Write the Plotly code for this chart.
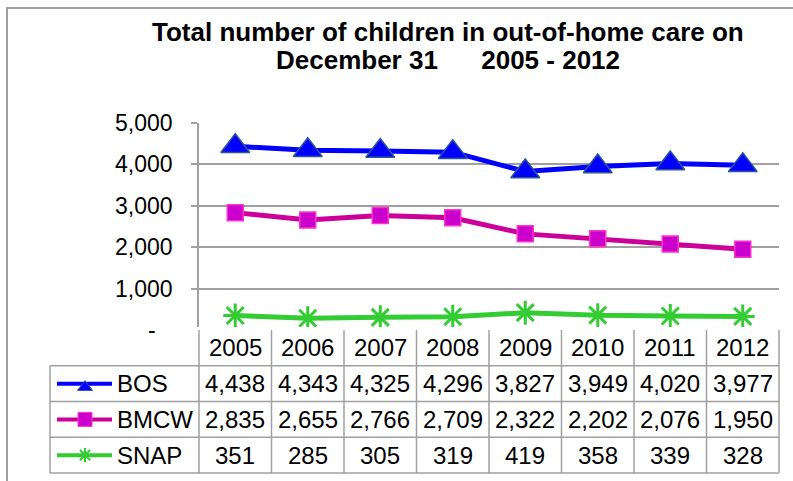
import plotly.graph_objects as go

years = ['2005', '2006', '2007', '2008', '2009', '2010', '2011', '2012']
bos = [4438, 4343, 4325, 4296, 3827, 3949, 4020, 3977]
bmcw = [2835, 2655, 2766, 2709, 2322, 2202, 2076, 1950]
snap = [351, 285, 305, 319, 419, 358, 339, 328]
series_names = ['BOS', 'BMCW', 'SNAP']
y_ticks = [0, 1000, 2000, 3000, 4000, 5000]
y_tick_text = ['', '1,000', '2,000', '3,000', '4,000', '5,000']
title_lines = ['Total number of children in out-of-home care on',
               'December 31\u00a0\u00a0\u00a0\u00a0\u00a0 2005 - 2012']

W, H = 793, 481
FONT = 'Liberation Sans, Arial, sans-serif'
GRID = '#A0A0A0'

# pixel layout
plot_left, plot_right, plot_top, plot_bottom = 199, 779, 123, 330
table_left, table_bottom = 50, 473
col_w = (plot_right - plot_left) / len(years)
row_h = (table_bottom - plot_bottom) / 4
pad = 3


def px(x):
    return x / W


def py(y):
    return 1 - y / H


def u(x):  # pixel -> table column units
    return (x - plot_left) / col_w - 0.5


def r(y):  # pixel -> table row units
    return (y - plot_bottom) / row_h


styles = {
    'BOS': dict(line='#0000FF', marker=dict(symbol='triangle-up', size=25, color='#0000FF',
                                             line=dict(color='#2F5597', width=1.5)),
                small=dict(symbol='triangle-up', size=13, color='#0000FF',
                           line=dict(color='#2F5597', width=1))),
    'BMCW': dict(line='#CC0099', marker=dict(symbol='square', size=16, color='#CC00CC',
                                              line=dict(color='#FF33CC', width=1.5)),
                 small=dict(symbol='square', size=14, color='#CC00CC',
                            line=dict(color='#FF33CC', width=1))),
    'SNAP': dict(line='#33CC33', marker=dict(symbol='asterisk-open', size=20, color='#33CC33',
                                              line=dict(color='#33CC33', width=3)),
                 small=dict(symbol='asterisk-open', size=12, color='#33CC33',
                            line=dict(color='#33CC33', width=2))),
}
values = {'BOS': bos, 'BMCW': bmcw, 'SNAP': snap}

fig = go.Figure()

# the lines on the chart
for name in series_names:
    st = styles[name]
    fig.add_trace(go.Scatter(
        x=years, y=values[name], name=name, mode='lines+markers',
        line=dict(color=st['line'], width=5),
        marker=st['marker'], cliponaxis=False,
    ))

# legend keys inside the data table
for k, name in enumerate(series_names):
    st = styles[name]
    row = k + 1.5
    fig.add_trace(go.Scatter(
        x=[u(57), u(112)], y=[row, row], mode='lines',
        line=dict(color=st['line'], width=4), xaxis='x2', yaxis='y2',
    ))
    fig.add_trace(go.Scatter(
        x=[u(85)], y=[row + (0.1 if name == 'BOS' else 0)], mode='markers',
        marker=st['small'], xaxis='x2', yaxis='y2',
    ))

shapes = []
# outer frame
shapes.append(dict(type='rect', xref='paper', yref='paper', x0=px(7), x1=px(820),
                   y0=py(520), y1=py(8), line=dict(color=GRID, width=2)))
# table grid
for row in range(1, 5):
    shapes.append(dict(type='line', xref='x2', yref='y2', x0=u(table_left), x1=len(years) - 0.5,
                       y0=row, y1=row, line=dict(color=GRID, width=1.5)))
for i in range(len(years) + 1):
    shapes.append(dict(type='line', xref='x2', yref='y2', x0=i - 0.5, x1=i - 0.5,
                       y0=0, y1=4, line=dict(color=GRID, width=1.5)))
shapes.append(dict(type='line', xref='x2', yref='y2', x0=u(table_left), x1=u(table_left),
                   y0=1, y1=4, line=dict(color=GRID, width=1.5)))

title_font = dict(family=FONT, size=26, color='black', weight='bold')
annotations = []
for line, yc in zip(title_lines, [32.5, 60.5]):
    annotations.append(dict(text=line, xref='paper', yref='paper', x=px(447.5), y=py(yc),
                            xanchor='center', yanchor='middle', showarrow=False,
                            font=title_font))
# accounting-style dash for the zero tick
annotations.append(dict(text='-', xref='paper', yref='y', x=px(158), y=0, xanchor='right',
                        yanchor='middle', showarrow=False,
                        font=dict(family=FONT, size=23, color='black')))
cell_font = dict(family=FONT, size=24, color='black')
for i, yr in enumerate(years):
    annotations.append(dict(text=yr, xref='x2', yref='y2', x=i, y=0.5, showarrow=False,
                            font=cell_font))
for k, name in enumerate(series_names):
    annotations.append(dict(text=name, xref='x2', yref='y2', x=u(115), y=k + 1.5,
                            xanchor='left', showarrow=False, font=cell_font))
    for i, v in enumerate(values[name]):
        annotations.append(dict(text=f'{v:,}', xref='x2', yref='y2', x=i, y=k + 1.5,
                                showarrow=False, font=cell_font))

fig.update_layout(
    width=W, height=H,
    margin=dict(l=0, r=0, t=0, b=0, pad=0),
    paper_bgcolor='white', plot_bgcolor='white',
    showlegend=False, hovermode=False,
    font=dict(family=FONT, size=22, color='black'),
    xaxis=dict(domain=[px(plot_left), px(plot_right)], range=[-0.5, len(years) - 0.5],
               type='category', showticklabels=False, showgrid=False, zeroline=False,
               showline=True, linecolor=GRID, linewidth=1.5, ticks='', automargin=False),
    yaxis=dict(domain=[py(plot_bottom), py(plot_top)], range=[0, 5000],
               tickvals=y_ticks, ticktext=y_tick_text, ticks='outside', ticklen=6,
               tickcolor=GRID, tickwidth=1.5, showline=True, linecolor=GRID, linewidth=1.5,
               gridcolor=GRID, gridwidth=1.5, zeroline=False, ticklabelstandoff=14,
               automargin=False, tickfont=dict(family=FONT, size=23, color='black')),
    xaxis2=dict(domain=[px(table_left - pad), px(plot_right + pad)],
                range=[u(table_left - pad), u(plot_right + pad)], visible=False,
                anchor='y2', automargin=False),
    yaxis2=dict(domain=[py(table_bottom + pad), py(plot_bottom - pad)],
                range=[r(table_bottom + pad), r(plot_bottom - pad)], visible=False,
                anchor='x2', automargin=False),
    shapes=shapes,
    annotations=annotations,
)

fig.write_html('out.html', config={'displayModeBar': False},
               post_script="document.body.style.margin='0';document.body.style.overflow='hidden';")
